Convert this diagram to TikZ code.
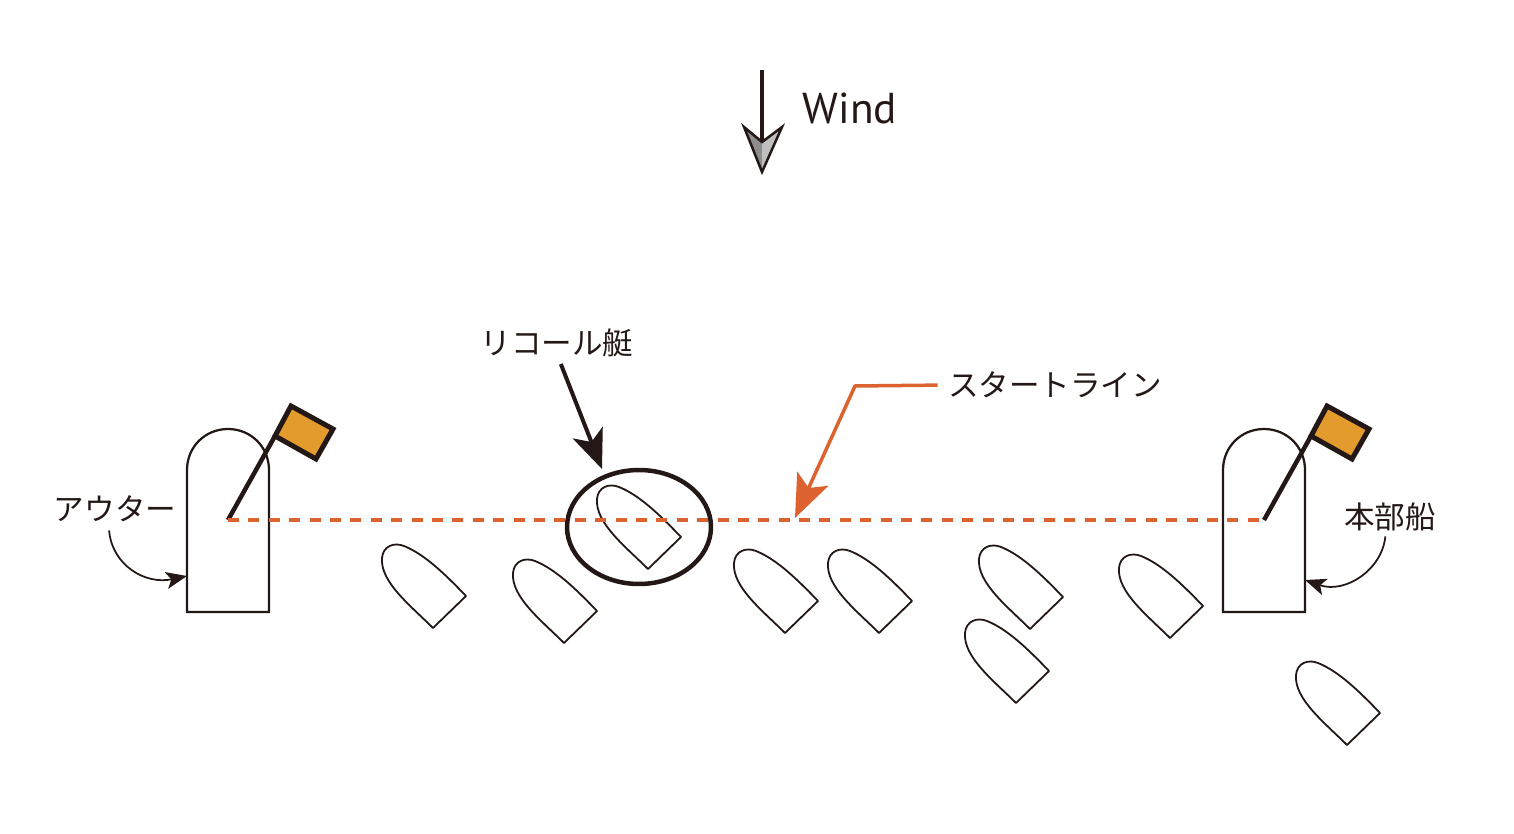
\documentclass[tikz,border=0pt]{standalone}
\usepackage{fontspec}
\usepackage{xcolor}
\setmainfont{PT Sans}
\newfontfamily\jpfont{Noto Sans CJK JP}
\usetikzlibrary{arrows.meta}
\usetikzlibrary{shapes.geometric}
\definecolor{lineink}{HTML}{231815}
\definecolor{startorange}{HTML}{DC632F}
\definecolor{flagorange}{HTML}{E39B2D}
\tikzset{
  jplabel/.style={font=\jpfont\fontsize{17.4}{20}\selectfont, text=lineink, inner sep=0pt},
  smallboat/.pic={
    \draw[lineink, line width=0.036cm, line join=round] (0,0) -- (-33,32)
      .. controls (-55,10) and (-86,-14) .. (-84,-38)
      .. controls (-83,-50) and (-72,-54) .. (-62,-50)
      .. controls (-42,-42) and (-22,-23) .. cycle;
  },
  markship/.pic={
    \draw[lineink, line width=0.045cm] (-41,92) -- (-41,-50)
      .. controls (-41,-73) and (-23,-91) .. (0,-91)
      .. controls (23,-91) and (41,-73) .. (41,-50) -- (41,92) -- cycle;
    \draw[lineink, line width=0.09cm] (0,0) -- (47,-84);
    \draw[lineink, line width=0.1cm, fill=flagorange, line join=miter] (47,-84) -- (63,-114) -- (105,-91) -- (88,-61) -- cycle;
  }
}
\begin{document}
\begin{tikzpicture}[x=0.02cm, y=-0.02cm]
     \useasboundingbox (0,0) rectangle (1514,834);
     %nodes
     \node[font=\fontsize{24.6}{28}\selectfont, text=lineink, inner sep=0pt] (wind) at (850,108) {Wind};
     \node[jplabel] (recalllabel) at (557,343) {リコール艇};
     \node[jplabel] (startlabel) at (1055,385) {スタートライン};
     \node[jplabel] (outerlabel) at (115,509) {アウター};
     \node[jplabel] (hqlabel) at (1390,517) {本部船};
     \node[draw=lineink, ellipse, line width=0.09cm, inner sep=0pt, outer sep=0pt, minimum width=2.88cm, minimum height=2.28cm] (recallring) at (639,527) {};

     \coordinate (outermark) at (228,520);
     \coordinate (hqmark) at (1264,520);
     \coordinate (windtail) at (762,70);
     \coordinate (windnotch) at (762,142);
     \coordinate (windtip) at (762,172);
     \coordinate (recalltip) at (602,469);
     \coordinate (startbend) at (855,386);
     \coordinate (starttip) at (795,518);
     \coordinate (outertip) at (187,576);
     \coordinate (hqtip) at (1305,580);

     %ships and boats
     \pic at (outermark) {markship};
     \pic at (hqmark) {markship};
     \pic at (466,596) {smallboat};
     \pic at (597,611) {smallboat};
     \pic at (681,537) {smallboat};
     \pic at (818,601) {smallboat};
     \pic at (912,601) {smallboat};
     \pic at (1063,597) {smallboat};
     \pic at (1049,671) {smallboat};
     \pic at (1203,606) {smallboat};
     \pic at (1380,713) {smallboat};

     %wind arrow
     \fill[black!45] (windnotch) -- (744,127) -- (windtip) -- cycle;
     \fill[black!25] (windnotch) -- (782,127) -- (windtip) -- cycle;
     \draw[lineink, line width=0.05cm, line join=miter] (windnotch) -- (744,127) -- (windtip) -- (782,127) -- cycle;
     \draw[lineink, line width=0.07cm] (windtail) -- (windnotch);

     %start line
     \draw[startorange, line width=0.08cm, dash pattern=on 0.22cm off 0.188cm] (outermark) -- (hqmark);

     \draw[-{Stealth[length=0.78cm, width=0.64cm, inset=0.2cm]}, lineink, line width=0.08cm, shorten <=0.14cm] (recalllabel.-85) -- (recalltip);
     \draw[-{Stealth[length=0.86cm, width=0.68cm, inset=0.2cm]}, startorange, line width=0.07cm, shorten <=0.2cm] (startlabel.west) -- (startbend) -- (starttip);
     \draw[-{Stealth[length=0.42cm, width=0.34cm, inset=0.1cm]}, lineink, line width=0.035cm, shorten <=0.16cm] (outerlabel.244) .. controls (112,565) and (145,585) .. (outertip);
     \draw[-{Stealth[length=0.42cm, width=0.34cm, inset=0.1cm]}, lineink, line width=0.035cm, shorten <=0.1cm] (hqlabel.-106) .. controls (1382,570) and (1345,594) .. (hqtip);
\end{tikzpicture}
\end{document}
